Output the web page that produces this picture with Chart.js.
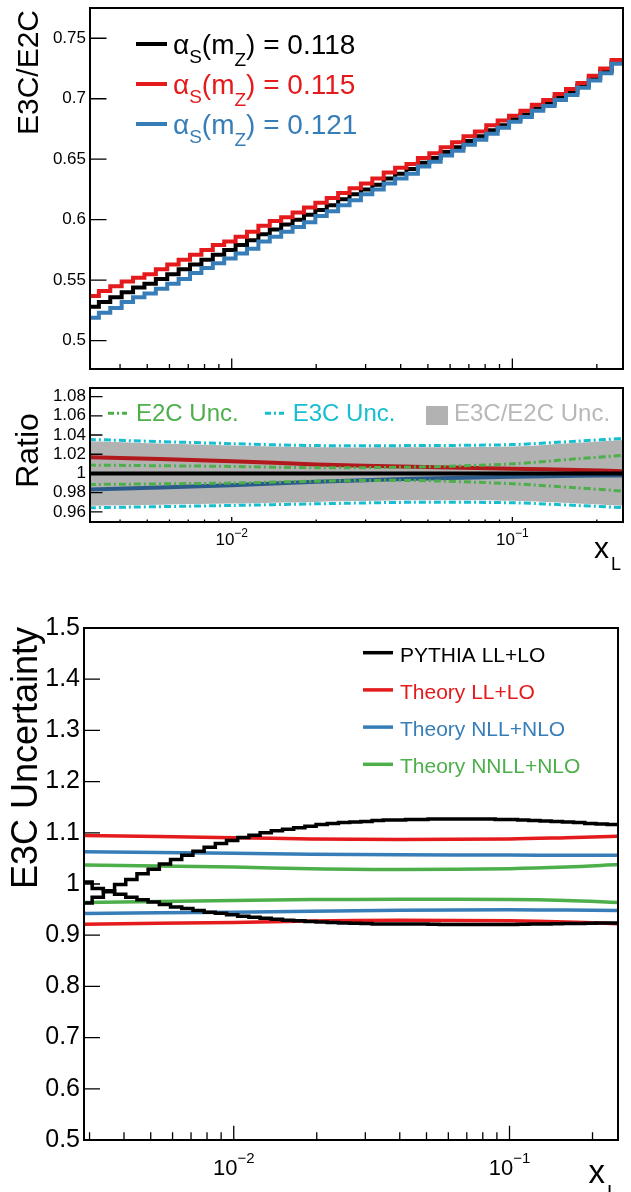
<!DOCTYPE html>
<html>
<head>
<meta charset="utf-8">
<script src="https://cdn.jsdelivr.net/npm/chart.js@4.4.1/dist/chart.umd.min.js"></script>
<style>
  html, body { margin: 0; padding: 0; background: #fff; }
  body { width: 631px; height: 1192px; position: relative; overflow: hidden; }
  canvas { position: absolute; left: 0; }
</style>
</head>
<body>
<canvas id="topChart" width="631" height="378" style="top:0"></canvas>
<canvas id="ratioChart" width="631" height="200" style="top:378px"></canvas>
<canvas id="uncChart" width="631" height="614" style="top:578px"></canvas>
<script>
// BINNING (log10 x of the first bin edge, bin width in decades)
const binLog0Top = -2.514;
const binLog0Unc = -2.554;
const binLogWidth = 0.0406;

// TOP PANEL: E3C/E2C per bin
const e3cE2c118 = [0.528, 0.532, 0.536, 0.540, 0.544, 0.547, 0.551, 0.555, 0.559, 0.563, 0.567, 0.571,
  0.575, 0.579, 0.583, 0.588, 0.592, 0.596, 0.600, 0.604, 0.608, 0.612, 0.617, 0.621, 0.625, 0.629,
  0.634, 0.638, 0.642, 0.647, 0.651, 0.656, 0.660, 0.665, 0.669, 0.674, 0.678, 0.683, 0.687, 0.692,
  0.696, 0.701, 0.705, 0.711, 0.717, 0.723, 0.730];
const e3cE2c115 = [0.537, 0.541, 0.545, 0.549, 0.552, 0.555, 0.559, 0.563, 0.567, 0.571, 0.575, 0.579,
  0.582, 0.586, 0.590, 0.595, 0.599, 0.602, 0.606, 0.610, 0.614, 0.618, 0.622, 0.626, 0.630, 0.634,
  0.639, 0.643, 0.646, 0.651, 0.655, 0.660, 0.664, 0.669, 0.673, 0.678, 0.682, 0.686, 0.690, 0.695,
  0.699, 0.704, 0.708, 0.713, 0.719, 0.725, 0.732];
const e3cE2c121 = [0.519, 0.523, 0.527, 0.532, 0.536, 0.539, 0.543, 0.547, 0.551, 0.556, 0.560, 0.564,
  0.568, 0.572, 0.576, 0.582, 0.586, 0.590, 0.594, 0.598, 0.603, 0.607, 0.612, 0.616, 0.621, 0.625,
  0.630, 0.634, 0.638, 0.644, 0.648, 0.653, 0.657, 0.662, 0.666, 0.671, 0.676, 0.681, 0.685, 0.690,
  0.694, 0.699, 0.703, 0.709, 0.715, 0.721, 0.729];
const alphaValues = ["0.118", "0.115", "0.121"];

// RATIO PANEL
const ratioX = [0.0031, 0.01, 0.02, 0.044, 0.1, 0.17, 0.25];
const ratio118 = [1, 1, 1, 1, 1, 1, 1];
const ratio115 = [1.017, 1.0128, 1.0094, 1.007, 1.005, 1.0035, 1.0024];
const ratio121 = [0.9833, 0.9878, 0.9913, 0.9945, 0.9966, 0.9975, 0.998];
const e2cUncUp = [1.0087, 1.0073, 1.006, 1.0066, 1.010, 1.0153, 1.0188];
const e2cUncDown = [0.9885, 0.990, 0.992, 0.9927, 0.9893, 0.985, 0.9816];
const e3cUncUp = [1.0354, 1.031, 1.029, 1.029, 1.030, 1.0336, 1.0365];
const e3cUncDown = [0.9643, 0.9667, 0.9684, 0.970, 0.9695, 0.9667, 0.9643];
const ratioUncUp = [1.0335, 1.029, 1.0272, 1.0272, 1.028, 1.032, 1.035];
const ratioUncDown = [0.9663, 0.9687, 0.9704, 0.972, 0.9715, 0.9687, 0.9663];
const ratioLegend = ["E2C Unc.", "E3C Unc.", "E3C/E2C Unc."];

// BOTTOM PANEL: E3C uncertainty envelopes
const pythiaUp = [0.963, 0.974, 0.985, 0.999, 1.009, 1.020, 1.029, 1.039, 1.048, 1.056, 1.064, 1.072,
  1.079, 1.085, 1.091, 1.095, 1.100, 1.104, 1.107, 1.110, 1.113, 1.116, 1.118, 1.120, 1.121, 1.122,
  1.124, 1.125, 1.125, 1.126, 1.126, 1.127, 1.127, 1.127, 1.127, 1.127, 1.127, 1.126, 1.126, 1.125,
  1.124, 1.123, 1.122, 1.121, 1.120, 1.118, 1.117, 1.116];
const pythiaDown = [1.004, 0.991, 0.987, 0.980, 0.974, 0.969, 0.965, 0.960, 0.955, 0.952, 0.948, 0.945,
  0.943, 0.940, 0.937, 0.935, 0.933, 0.931, 0.929, 0.928, 0.927, 0.926, 0.925, 0.924, 0.9235, 0.923,
  0.922, 0.922, 0.922, 0.922, 0.922, 0.9215, 0.921, 0.921, 0.921, 0.921, 0.921, 0.921, 0.921, 0.9215,
  0.922, 0.922, 0.9225, 0.923, 0.923, 0.9235, 0.924, 0.924];
const theoryX = [0.00284, 0.01, 0.019, 0.04, 0.1, 0.16, 0.25];
const llUp = [1.095, 1.0905, 1.088, 1.087, 1.088, 1.0905, 1.0935];
const llDown = [0.9216, 0.925, 0.9275, 0.929, 0.928, 0.926, 0.9225];
const nllUp = [1.063, 1.060, 1.058, 1.057, 1.0565, 1.0563, 1.0563];
const nllDown = [0.9425, 0.945, 0.947, 0.9485, 0.9496, 0.949, 0.9484];
const nnllUp = [1.037, 1.033, 1.030, 1.0284, 1.030, 1.033, 1.038];
const nnllDown = [0.964, 0.968, 0.9695, 0.970, 0.9698, 0.968, 0.964];
const uncLegend = ["PYTHIA LL+LO", "Theory LL+LO", "Theory NLL+NLO", "Theory NNLL+NLO"];

// AXES
const xRangeTop = [0.003126, 0.2479];
const xRangeUnc = [0.002864, 0.2474];
const yRangeTop = [0.4766, 0.775];
const yRangeRatio = [0.9495, 1.0889];
const yRangeUnc = [0.5, 1.5];
const yTicksTop = [0.5, 0.55, 0.6, 0.65, 0.7, 0.75];
const yTicksRatio = [0.96, 0.98, 1, 1.02, 1.04, 1.06, 1.08];
const yTicksUnc = [0.5, 0.6, 0.7, 0.8, 0.9, 1, 1.1, 1.2, 1.3, 1.4, 1.5];
const xMajorTicks = [0.01, 0.1];
const xMinorTicks = [0.003, 0.004, 0.005, 0.006, 0.007, 0.008, 0.009,
  0.02, 0.03, 0.04, 0.05, 0.06, 0.07, 0.08, 0.09, 0.2];

const FONT = '"Liberation Sans", Arial, Helvetica, sans-serif';
const RED = "#e41a1c", BLUE = "#377eb8", GREEN = "#4daf4a", CYAN = "#17becf", GREY = "#b2b2b2";

// HELPERS
function stepPoints(log0, values) {
  const pts = values.map((v, i) => ({ x: Math.pow(10, log0 + i * binLogWidth), y: v }));
  pts.push({ x: Math.pow(10, log0 + values.length * binLogWidth), y: values[values.length - 1] });
  return pts;
}

function xyPoints(xs, ys) {
  return xs.map((x, i) => ({ x: x, y: ys[i] }));
}

function yAxis(range, ticks, width, size) {
  return {
    type: "linear",
    min: range[0],
    max: range[1],
    afterBuildTicks: s => { s.ticks = ticks.map(v => ({ value: v })); },
    afterFit: s => { s.width = width; s.paddingTop = 0; s.paddingBottom = 0; },
    grid: { display: false, drawTicks: false },
    border: { display: false },
    ticks: {
      color: "#000",
      autoSkip: false,
      padding: 4,
      font: { family: FONT, size: size, lineHeight: 0.8 },
      callback: v => String(v)
    }
  };
}

function xAxis(range) {
  return { type: "logarithmic", min: range[0], max: range[1], display: false };
}

function line(ctx, x1, y1, x2, y2, color, width, dash) {
  ctx.save();
  ctx.strokeStyle = color;
  ctx.lineWidth = width;
  ctx.setLineDash(dash || []);
  ctx.beginPath();
  ctx.moveTo(x1, y1);
  ctx.lineTo(x2, y2);
  ctx.stroke();
  ctx.restore();
}

function text(ctx, str, x, y, size, color, align) {
  ctx.font = size + "px " + FONT;
  ctx.fillStyle = color;
  ctx.textAlign = align || "left";
  ctx.fillText(str, x, y);
}

function yTitle(ctx, str, x, y, size, align) {
  ctx.save();
  ctx.translate(x, y);
  ctx.rotate(-Math.PI / 2);
  text(ctx, str, 0, 0, size, "#000", align);
  ctx.restore();
}

function powerLabels(ctx, scale, baseY, size, supSize, rise) {
  xMajorTicks.forEach(v => {
    const px = scale.getPixelForValue(v);
    const exp = "\u2212" + Math.abs(Math.round(Math.log10(v)));
    ctx.font = size + "px " + FONT;
    const w1 = ctx.measureText("10").width;
    ctx.font = supSize + "px " + FONT;
    const w2 = ctx.measureText(exp).width;
    const x0 = px - (w1 + w2) / 2;
    text(ctx, "10", x0, baseY, size, "#000");
    text(ctx, exp, x0 + w1, baseY - rise, supSize, "#000");
  });
}

// ROOT-like frame: inward ticks and a box round the plot area
function rootFrame(cfg) {
  return {
    id: "rootFrame",
    afterDatasetsDraw(chart) {
      const { ctx, chartArea: a } = chart;
      const x = chart.scales.x, y = chart.scales.y;
      ctx.save();
      ctx.strokeStyle = "#000";
      ctx.lineWidth = 1.3;
      ctx.beginPath();
      cfg.yTicks.forEach(v => {
        const py = y.getPixelForValue(v);
        ctx.moveTo(a.left, py);
        ctx.lineTo(a.left + cfg.yLen, py);
      });
      const xt = (list, len) => list.forEach(v => {
        if (v < x.min || v > x.max) return;
        const px = x.getPixelForValue(v);
        ctx.moveTo(px, a.bottom);
        ctx.lineTo(px, a.bottom - len);
      });
      xt(xMajorTicks, cfg.majorLen);
      xt(xMinorTicks, cfg.minorLen);
      ctx.stroke();
      ctx.lineWidth = 2;
      ctx.strokeRect(a.left, a.top, a.right - a.left, a.bottom - a.top);
      ctx.restore();
    },
    afterDraw(chart) {
      chart.ctx.save();
      cfg.decorate(chart.ctx, chart);
      chart.ctx.restore();
    }
  };
}

const baseOptions = (xs, ys, pad) => ({
  responsive: false,
  animation: false,
  events: [],
  layout: { padding: pad },
  plugins: { legend: { display: false }, tooltip: { enabled: false } },
  elements: { point: { radius: 0 } },
  scales: { x: xs, y: ys }
});

// TOP CHART
new Chart(document.getElementById("topChart"), {
  type: "line",
  data: {
    datasets: [
      { data: stepPoints(binLog0Top, e3cE2c118), borderColor: "#000", borderWidth: 4, stepped: true, order: 2 },
      { data: stepPoints(binLog0Top, e3cE2c115), borderColor: RED, borderWidth: 4, stepped: true, order: 1 },
      { data: stepPoints(binLog0Top, e3cE2c121), borderColor: BLUE, borderWidth: 4, stepped: true, order: 0 }
    ]
  },
  options: baseOptions(xAxis(xRangeTop), yAxis(yRangeTop, yTicksTop, 90, 17), { left: 0, right: 8, top: 8, bottom: 9 }),
  plugins: [rootFrame({
    yTicks: yTicksTop, yLen: 16.5, majorLen: 10.5, minorLen: 5,
    decorate(ctx) {
      yTitle(ctx, "E3C/E2C", 38, 10, 30, "right");
      const colors = ["#000", RED, BLUE];
      alphaValues.forEach((val, i) => {
        const yb = 54 + i * 40;
        line(ctx, 136, yb - 10, 167, yb - 10, colors[i], 4);
        let x = 173;
        const parts = [["\u03b1", 28, 0], ["S", 19, 9], ["(m", 28, 0], ["Z", 19, 12], [") = " + val, 28, 0]];
        parts.forEach(p => {
          text(ctx, p[0], x, yb + p[2], p[1], colors[i]);
          x += ctx.measureText(p[0]).width;
        });
      });
    }
  })]
});

// RATIO CHART
const dashed = (data, color) => ({ data: data, borderColor: color, borderWidth: 3, borderDash: [7, 3, 2, 3], tension: 0.3 });
new Chart(document.getElementById("ratioChart"), {
  type: "line",
  data: {
    datasets: [
      { data: xyPoints(ratioX, ratioUncUp), borderWidth: 0, borderColor: GREY, backgroundColor: GREY, fill: "+1", tension: 0.3, order: 10 },
      { data: xyPoints(ratioX, ratioUncDown), borderWidth: 0, borderColor: GREY, fill: false, tension: 0.3, order: 10 },
      { data: xyPoints(ratioX, ratio115), borderColor: "#b2191d", borderWidth: 4, tension: 0.3, order: 5 },
      { data: xyPoints(ratioX, ratio121), borderColor: "#2b5b8b", borderWidth: 4, tension: 0.3, order: 4 },
      { data: xyPoints(ratioX, ratio118), borderColor: "#000", borderWidth: 4, order: 3 },
      Object.assign(dashed(xyPoints(ratioX, e2cUncUp), GREEN), { order: 2 }),
      Object.assign(dashed(xyPoints(ratioX, e2cUncDown), GREEN), { order: 2 }),
      Object.assign(dashed(xyPoints(ratioX, e3cUncUp), CYAN), { order: 1 }),
      Object.assign(dashed(xyPoints(ratioX, e3cUncDown), CYAN), { order: 1 })
    ]
  },
  options: baseOptions(xAxis(xRangeTop), yAxis(yRangeRatio, yTicksRatio, 90, 17), { left: 0, right: 8, top: 10, bottom: 56 }),
  plugins: [rootFrame({
    yTicks: yTicksRatio, yLen: 12.5, majorLen: 5, minorLen: 2.5,
    decorate(ctx, chart) {
      yTitle(ctx, "Ratio", 38, 72.5, 32, "center");
      line(ctx, 108, 35.3, 127, 35.3, GREEN, 3, [6, 3, 2, 3]);
      text(ctx, ratioLegend[0], 136, 42.7, 24, GREEN);
      line(ctx, 265, 35.3, 284, 35.3, CYAN, 3, [6, 3, 2, 3]);
      text(ctx, ratioLegend[1], 292.7, 42.7, 24, CYAN);
      ctx.fillStyle = GREY;
      ctx.fillRect(426, 28, 22, 19);
      text(ctx, ratioLegend[2], 454, 42.7, 24, "#b8b8b8");
      powerLabels(ctx, chart.scales.x, 167, 17, 12, 8.3);
      text(ctx, "x", 594, 180, 30, "#000");
      text(ctx, "L", 611, 192, 18, "#000");
    }
  })]
});

// BOTTOM CHART
const band = (data, color, order) => ({ data: data, borderColor: color, borderWidth: 3.5, tension: 0.35, order: order });
new Chart(document.getElementById("uncChart"), {
  type: "line",
  data: {
    datasets: [
      { data: stepPoints(binLog0Unc, pythiaUp), borderColor: "#000", borderWidth: 3.5, stepped: true, order: 0 },
      { data: stepPoints(binLog0Unc, pythiaDown), borderColor: "#000", borderWidth: 3.5, stepped: true, order: 0 },
      band(xyPoints(theoryX, llUp), RED, 1),
      band(xyPoints(theoryX, llDown), RED, 1),
      band(xyPoints(theoryX, nllUp), BLUE, 2),
      band(xyPoints(theoryX, nllDown), BLUE, 2),
      band(xyPoints(theoryX, nnllUp), GREEN, 3),
      band(xyPoints(theoryX, nnllDown), GREEN, 3)
    ]
  },
  options: baseOptions(xAxis(xRangeUnc), yAxis(yRangeUnc, yTicksUnc, 84, 25), { left: 0, right: 13, top: 50, bottom: 52 }),
  plugins: [rootFrame({
    yTicks: yTicksUnc, yLen: 16, majorLen: 14.3, minorLen: 7.7,
    decorate(ctx, chart) {
      yTitle(ctx, "E3C Uncertainty", 37, 49, 36, "right");
      const colors = ["#000", RED, BLUE, GREEN];
      uncLegend.forEach((label, i) => {
        const yb = 83.7 + i * 37.2;
        line(ctx, 363, yb - 9, 393, yb - 9, colors[i], 3.5);
        text(ctx, label, 400, yb, 21, colors[i]);
      });
      powerLabels(ctx, chart.scales.x, 597, 22, 15, 11.7);
      text(ctx, "x", 588.6, 605.3, 33, "#000");
      text(ctx, "L", 607, 621, 20, "#000");
    }
  })]
});
</script>
</body>
</html>
